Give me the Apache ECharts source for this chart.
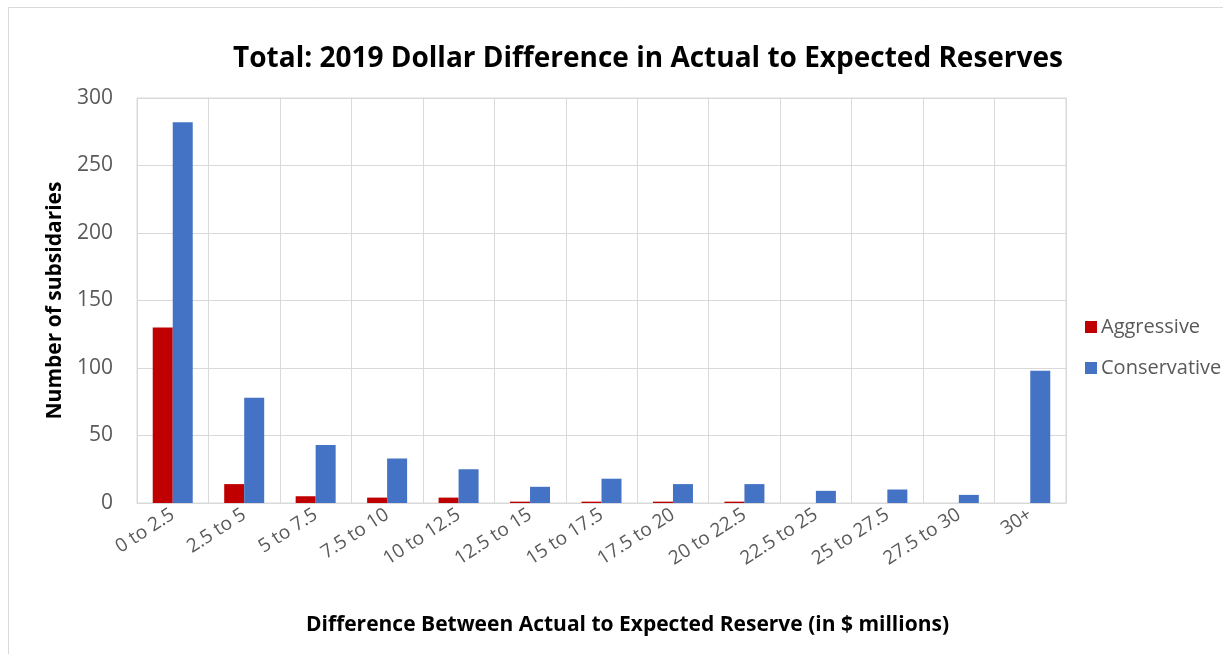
<!DOCTYPE html>
<html>
<head>
<meta charset="utf-8">
<script src="https://cdn.jsdelivr.net/npm/echarts@6/dist/echarts.min.js"></script>
<style>
  html, body { margin: 0; padding: 0; background: #fff; }
  #chart { width: 1223px; height: 654px; }
</style>
</head>
<body>
<div id="chart"></div>
<script>
// Reserve difference buckets (in $ millions)
const categories = ['0 to 2.5', '2.5 to 5', '5 to 7.5', '7.5 to 10', '10 to 12.5', '12.5 to 15',
  '15 to 17.5', '17.5 to 20', '20 to 22.5', '22.5 to 25', '25 to 27.5', '27.5 to 30', '30+'];

// Number of subsidiaries in each bucket
const aggressive = [130, 14, 5, 4, 4, 1, 1, 1, 1, 0, 0, 0, 0];
const conservative = [282, 78, 43, 33, 25, 12, 18, 14, 14, 9, 10, 6, 98];

const yTicks = { min: 0, max: 300, interval: 50 };

const FONT = 'Open Sans';
const chart = echarts.init(document.getElementById('chart'), null, { renderer: 'canvas' });

chart.setOption({
  backgroundColor: '#ffffff',
  animation: false,
  textStyle: { fontFamily: FONT },
  title: {
    text: 'Total: 2019 Dollar Difference in Actual to Expected Reserves',
    left: 643,
    top: 40,
    textAlign: 'center',
    textStyle: { fontFamily: FONT, fontSize: 28, fontWeight: 'bold', color: '#000000' }
  },
  graphic: [{
    type: 'rect',
    shape: { x: 8.5, y: 7.5, width: 1230, height: 700 },
    style: { fill: 'none', stroke: '#d9d9d9', lineWidth: 1 },
    silent: true
  }],
  legend: {
    orient: 'vertical',
    left: 1080,
    top: 312,
    itemWidth: 12,
    itemHeight: 12,
    itemGap: 21,
    icon: 'rect',
    textStyle: { fontFamily: FONT, fontSize: 20, color: '#595959', padding: [0, 0, 0, -1] },
    data: ['Aggressive', 'Conservative']
  },
  grid: { left: 137, right: 157, top: 98, bottom: 151, show: true, borderColor: '#d9d9d9', borderWidth: 1 },
  xAxis: {
    type: 'category',
    data: categories,
    name: 'Difference Between Actual to Expected Reserve (in $ millions)',
    nameLocation: 'middle',
    nameGap: 112,
    nameTextStyle: { fontFamily: FONT, fontSize: 21, fontWeight: 'bold', color: '#000000', padding: [0, 0, 0, 52] },
    axisLine: { show: true, lineStyle: { color: '#d9d9d9', width: 1 } },
    axisTick: { show: false },
    splitLine: { show: true, lineStyle: { color: '#d9d9d9', width: 1 } },
    axisLabel: { rotate: 33, fontFamily: FONT, fontSize: 19, color: '#595959', margin: 10, interval: 0 }
  },
  yAxis: {
    type: 'value',
    min: yTicks.min,
    max: yTicks.max,
    interval: yTicks.interval,
    name: 'Number of subsidaries',
    nameLocation: 'middle',
    nameGap: 71,
    nameTextStyle: { fontFamily: FONT, fontSize: 21, fontWeight: 'bold', color: '#000000' },
    axisLine: { show: false },
    axisTick: { show: false },
    splitLine: { show: true, lineStyle: { color: '#d9d9d9', width: 1 } },
    axisLabel: { fontFamily: FONT, fontSize: 21, color: '#595959', margin: 24 }
  },
  series: [
    {
      name: 'Aggressive',
      type: 'bar',
      data: aggressive,
      barWidth: 20,
      barGap: '0%',
      itemStyle: { color: '#c00000' }
    },
    {
      name: 'Conservative',
      type: 'bar',
      data: conservative,
      barWidth: 20,
      barGap: '0%',
      itemStyle: { color: '#4472c4' }
    }
  ]
});
</script>
</body>
</html>
